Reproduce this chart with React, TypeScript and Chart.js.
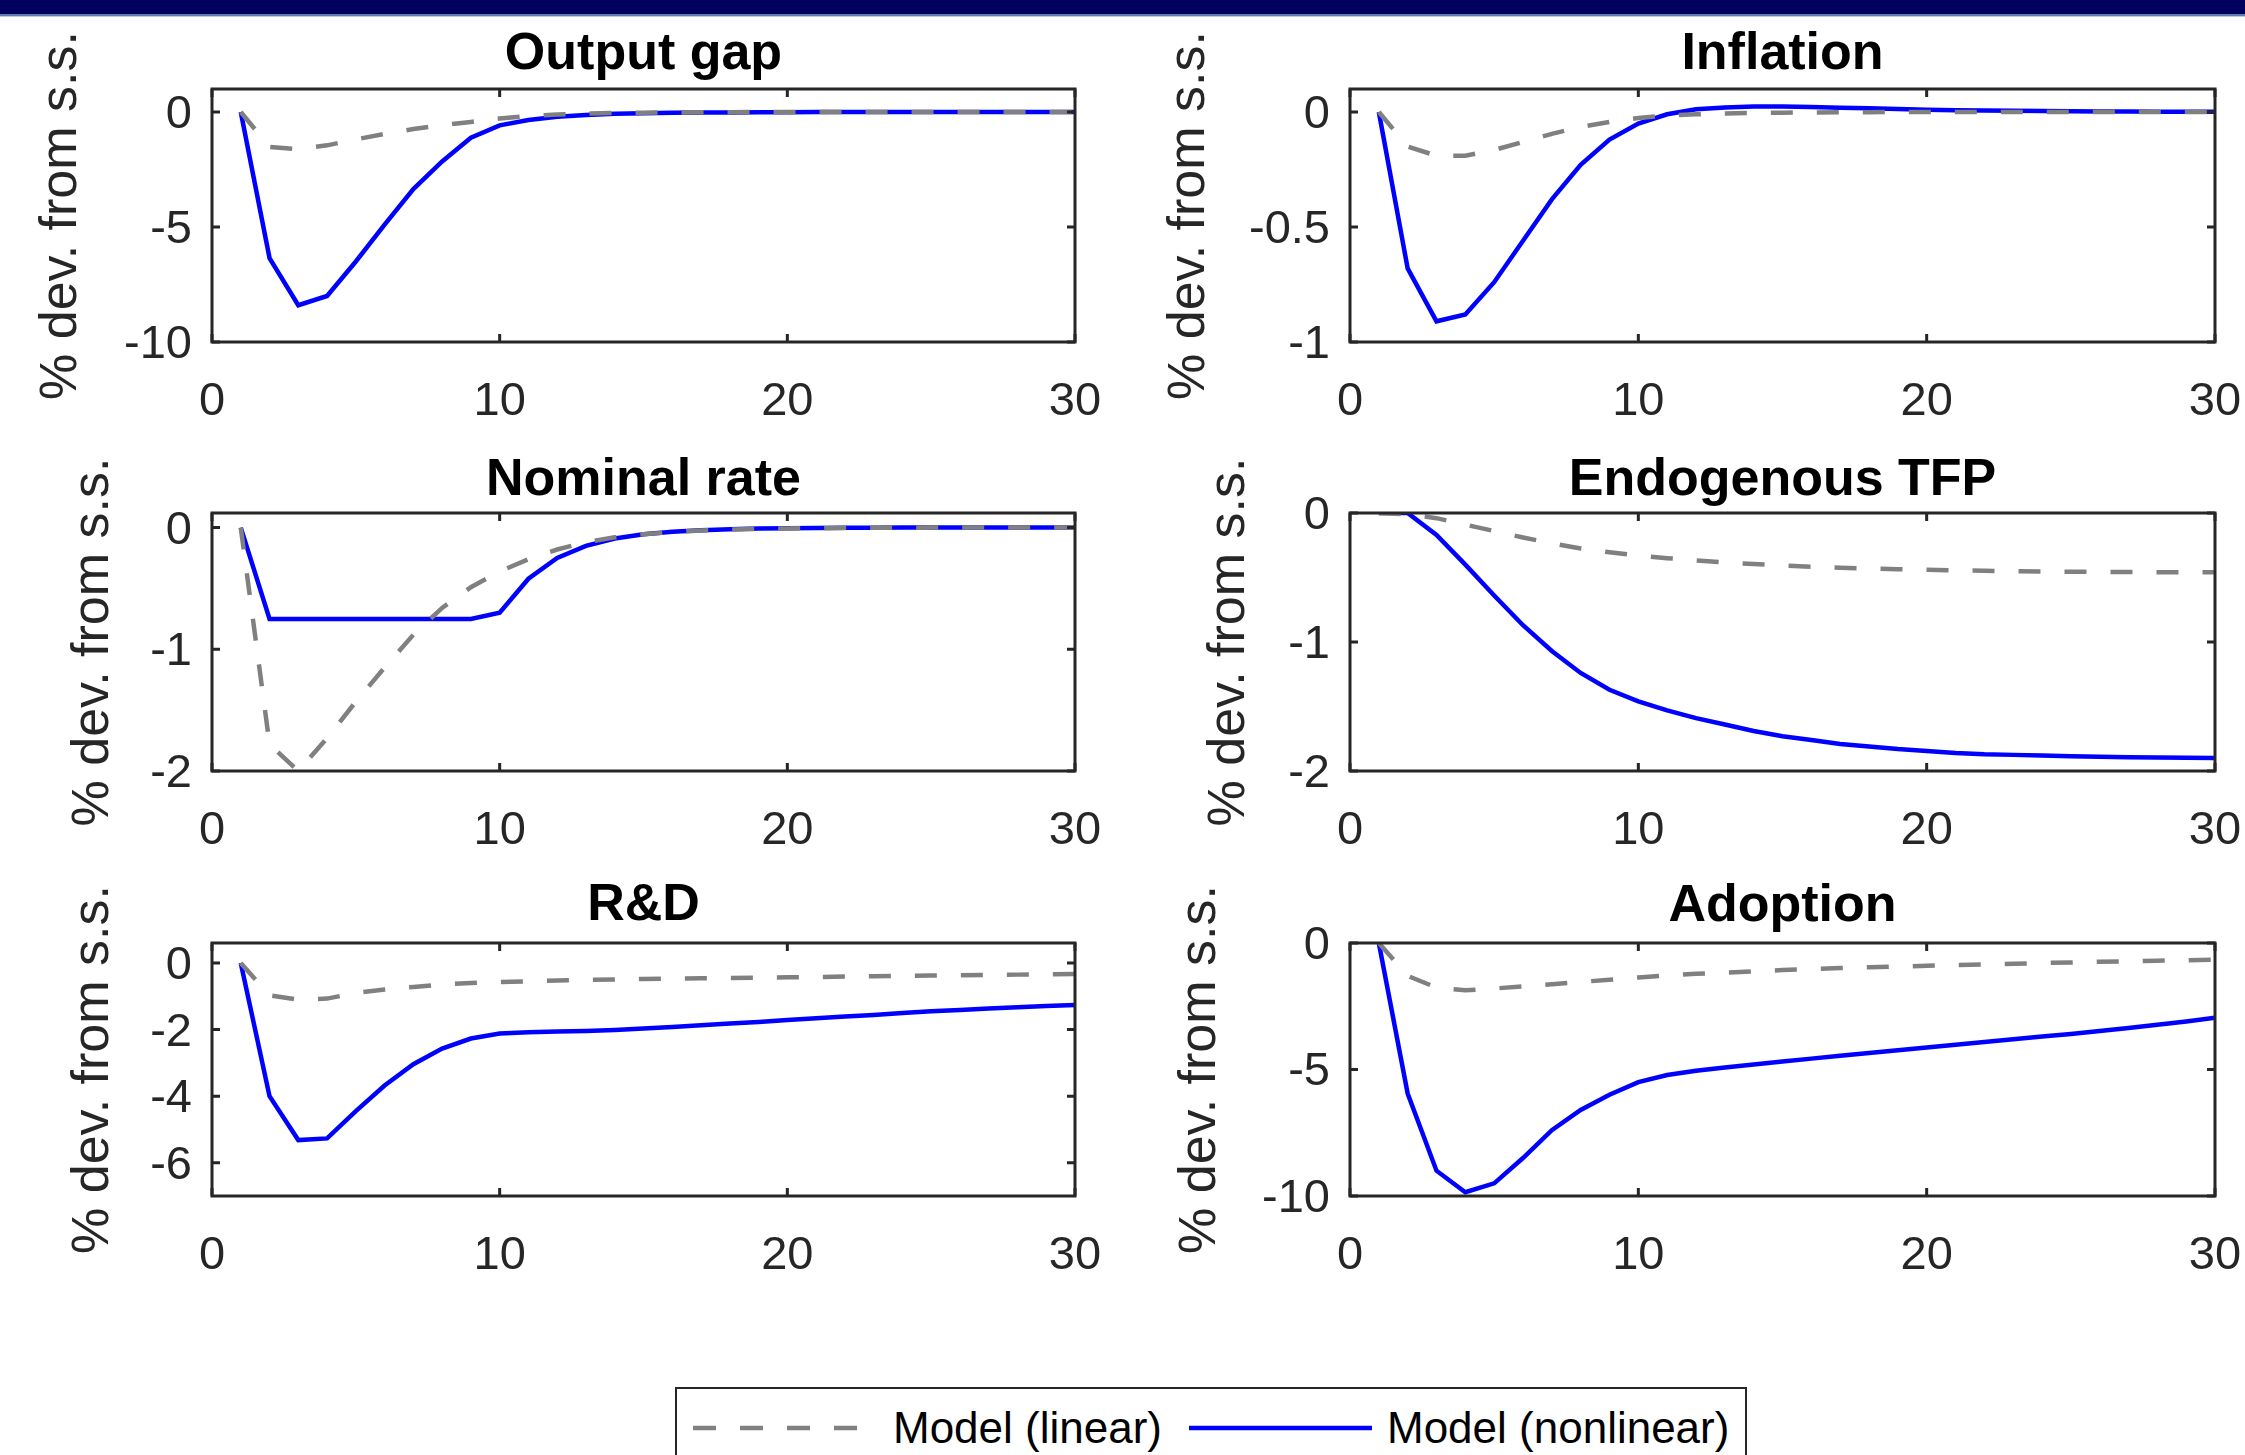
import React, { useEffect, useRef } from "react";
import { Chart, registerables } from "chart.js";

Chart.register(...registerables);

// ---------------- data ----------------
const periods = [1, 2, 3, 4, 5, 6, 7, 8, 9, 10, 11, 12, 13, 14, 15, 16, 17, 18, 19, 20, 21, 22, 23, 24, 25, 26, 27, 28, 29, 30];
const xTickValues = [0, 10, 20, 30];

const seriesLabels = ["Model (linear)", "Model (nonlinear)"];
const panelTitles = ["Output gap", "Inflation", "Nominal rate", "Endogenous TFP", "R&D", "Adoption"];
const yAxisLabel = "% dev. from s.s.";

const outputGapLinear = [0, -1.52, -1.62, -1.45, -1.19, -0.95, -0.74, -0.57, -0.43, -0.28, -0.17, -0.11, -0.07, -0.04, -0.03, -0.02, -0.01, -0.01, 0, 0, 0, 0, 0, 0, 0, 0, 0, 0, 0, 0];
const outputGapNonlinear = [0, -6.35, -8.4, -8.0, -6.5, -4.9, -3.35, -2.15, -1.12, -0.58, -0.35, -0.21, -0.13, -0.08, -0.05, -0.035, -0.025, -0.018, -0.012, -0.008, -0.005, -0.004, -0.003, -0.002, -0.001, 0, 0, 0, 0, 0];
const outputGapYTicks = [-10, -5, 0];

const inflationLinear = [0, -0.15, -0.19, -0.19, -0.165, -0.13, -0.095, -0.065, -0.043, -0.026, -0.015, -0.01, -0.006, -0.004, -0.003, -0.002, -0.001, -0.001, 0, 0, 0, 0, 0, 0, 0, 0, 0, 0, 0, 0];
const inflationNonlinear = [0, -0.68, -0.91, -0.88, -0.74, -0.56, -0.38, -0.23, -0.12, -0.05, -0.01, 0.012, 0.02, 0.024, 0.024, 0.022, 0.019, 0.016, 0.013, 0.01, 0.008, 0.006, 0.005, 0.004, 0.003, 0.002, 0.002, 0.001, 0.001, 0.001];
const inflationYTicks = [-1, -0.5, 0];

const nominalRateLinear = [0, -1.78, -2.0, -1.73, -1.43, -1.15, -0.88, -0.66, -0.49, -0.36, -0.26, -0.18, -0.12, -0.08, -0.055, -0.037, -0.024, -0.016, -0.01, -0.007, -0.005, -0.003, -0.002, -0.001, 0, 0, 0, 0, 0, 0];
const nominalRateNonlinear = [0, -0.75, -0.75, -0.75, -0.75, -0.75, -0.75, -0.75, -0.75, -0.7, -0.42, -0.25, -0.15, -0.09, -0.055, -0.034, -0.021, -0.013, -0.008, -0.005, -0.003, -0.002, -0.001, 0, 0, 0, 0, 0, 0, 0];
const nominalRateYTicks = [-2, -1, 0];

const tfpLinear = [0, -0.01, -0.04, -0.09, -0.14, -0.19, -0.235, -0.275, -0.305, -0.33, -0.35, -0.368, -0.383, -0.396, -0.407, -0.416, -0.424, -0.43, -0.436, -0.44, -0.444, -0.448, -0.451, -0.453, -0.455, -0.457, -0.458, -0.459, -0.46, -0.46];
const tfpNonlinear = [0, 0, -0.17, -0.4, -0.64, -0.87, -1.07, -1.24, -1.37, -1.46, -1.53, -1.59, -1.64, -1.69, -1.73, -1.76, -1.79, -1.81, -1.83, -1.845, -1.86, -1.87, -1.875, -1.88, -1.885, -1.89, -1.893, -1.896, -1.898, -1.9];
const tfpYTicks = [-2, -1, 0];

const rdLinear = [0, -0.97, -1.1, -1.07, -0.9, -0.8, -0.72, -0.65, -0.6, -0.57, -0.55, -0.53, -0.51, -0.5, -0.48, -0.47, -0.46, -0.45, -0.44, -0.43, -0.42, -0.41, -0.4, -0.39, -0.38, -0.37, -0.36, -0.35, -0.34, -0.33];
const rdNonlinear = [0, -4.0, -5.32, -5.27, -4.45, -3.68, -3.04, -2.57, -2.27, -2.12, -2.08, -2.06, -2.04, -2.01, -1.97, -1.92, -1.87, -1.82, -1.77, -1.71, -1.66, -1.61, -1.56, -1.5, -1.45, -1.41, -1.37, -1.33, -1.29, -1.26];
const rdYTicks = [-6, -4, -2, 0];

const adoptionLinear = [0, -1.3, -1.76, -1.87, -1.8, -1.71, -1.63, -1.54, -1.45, -1.36, -1.28, -1.22, -1.17, -1.12, -1.07, -1.03, -0.99, -0.96, -0.93, -0.9, -0.87, -0.85, -0.82, -0.79, -0.77, -0.74, -0.72, -0.7, -0.68, -0.66];
const adoptionNonlinear = [0, -5.95, -9.0, -9.85, -9.5, -8.5, -7.4, -6.6, -6.0, -5.5, -5.22, -5.05, -4.92, -4.8, -4.68, -4.57, -4.46, -4.35, -4.24, -4.13, -4.02, -3.91, -3.8, -3.7, -3.6, -3.48, -3.36, -3.23, -3.1, -2.95];
const adoptionYTicks = [-10, -5, 0];

// ---------------- styling / layout ----------------
const FONT = "'Liberation Sans', Arial, Helvetica, sans-serif";
const GRAY = "#808080";
const BLUE = "#0000ff";
const AXIS = "#262626";
const XAXIS_H = 80;
const LINE_W = 4.5;

type PanelCfg = {
  title: string;
  linear: number[];
  nonlinear: number[];
  yMin: number;
  yMax: number;
  yTicks: number[];
  left: number;
  top: number;
  width: number;
  height: number;
  box: { l: number; t: number; r: number; b: number };
  yTitleX: number;
  titleCapY: number;
};

const panels: PanelCfg[] = [
  { title: panelTitles[0], linear: outputGapLinear, nonlinear: outputGapNonlinear, yMin: -10, yMax: 1, yTicks: outputGapYTicks,
    left: 0, top: 0, width: 1120, height: 430, box: { l: 212, t: 89, r: 1075, b: 342 }, yTitleX: 62, titleCapY: 50.5 },
  { title: panelTitles[1], linear: inflationLinear, nonlinear: inflationNonlinear, yMin: -1, yMax: 0.1, yTicks: inflationYTicks,
    left: 1120, top: 0, width: 1125, height: 430, box: { l: 230, t: 89, r: 1095, b: 342 }, yTitleX: 70, titleCapY: 50.5 },
  { title: panelTitles[2], linear: nominalRateLinear, nonlinear: nominalRateNonlinear, yMin: -2, yMax: 0.12, yTicks: nominalRateYTicks,
    left: 0, top: 430, width: 1120, height: 430, box: { l: 212, t: 83, r: 1075, b: 341 }, yTitleX: 94, titleCapY: 46 },
  { title: panelTitles[3], linear: tfpLinear, nonlinear: tfpNonlinear, yMin: -2, yMax: 0, yTicks: tfpYTicks,
    left: 1120, top: 430, width: 1125, height: 430, box: { l: 230, t: 83, r: 1095, b: 341 }, yTitleX: 110, titleCapY: 46 },
  { title: panelTitles[4], linear: rdLinear, nonlinear: rdNonlinear, yMin: -7, yMax: 0.6, yTicks: rdYTicks,
    left: 0, top: 860, width: 1120, height: 430, box: { l: 212, t: 83, r: 1075, b: 336 }, yTitleX: 94, titleCapY: 41 },
  { title: panelTitles[5], linear: adoptionLinear, nonlinear: adoptionNonlinear, yMin: -10, yMax: 0, yTicks: adoptionYTicks,
    left: 1120, top: 860, width: 1125, height: 430, box: { l: 230, t: 83, r: 1095, b: 336 }, yTitleX: 81, titleCapY: 42 },
];

function PanelChart({ p }: { p: PanelCfg }) {
  const ref = useRef<HTMLCanvasElement | null>(null);

  useEffect(() => {
    if (!ref.current) return;
    const titleSize = 52;
    const yTitleSize = 52;
    const tickSize = 47;

    const framePlugin = {
      id: "matlabFrame",
      afterDraw(chart: any) {
        const { ctx, chartArea } = chart;
        const { left, right, top, bottom } = chartArea;
        const xs = chart.scales.x;
        const ys = chart.scales.y;
        ctx.save();
        ctx.strokeStyle = AXIS;
        ctx.lineWidth = 3;
        ctx.lineCap = "butt";
        const tl = 8;
        ctx.beginPath();
        for (const v of xTickValues) {
          const px = xs.getPixelForValue(v);
          ctx.moveTo(px, bottom);
          ctx.lineTo(px, bottom - tl);
          ctx.moveTo(px, top);
          ctx.lineTo(px, top + tl);
        }
        for (const v of p.yTicks) {
          const py = ys.getPixelForValue(v);
          ctx.moveTo(left, py);
          ctx.lineTo(left + tl, py);
          ctx.moveTo(right, py);
          ctx.lineTo(right - tl, py);
        }
        ctx.stroke();
        ctx.strokeRect(left, top, right - left, bottom - top);
        // panel title
        ctx.fillStyle = "#000000";
        ctx.font = `bold ${titleSize}px ${FONT}`;
        ctx.textAlign = "center";
        ctx.textBaseline = "alphabetic";
        ctx.fillText(p.title, (left + right) / 2, p.titleCapY + 0.716 * titleSize / 2);
        ctx.restore();
      },
    };

    const chart = new Chart(ref.current, {
      type: "line",
      data: {
        datasets: [
          {
            label: seriesLabels[0],
            data: periods.map((x, i) => ({ x, y: p.linear[i] })),
            borderColor: GRAY,
            backgroundColor: GRAY,
            borderWidth: LINE_W,
            borderDash: [22, 24],
            pointRadius: 0,
            pointHoverRadius: 0,
            tension: 0,
            fill: false,
          },
          {
            label: seriesLabels[1],
            data: periods.map((x, i) => ({ x, y: p.nonlinear[i] })),
            borderColor: BLUE,
            backgroundColor: BLUE,
            borderWidth: LINE_W,
            pointRadius: 0,
            pointHoverRadius: 0,
            tension: 0,
            fill: false,
          },
        ],
      },
      options: {
        responsive: false,
        animation: false,
        events: [],
        layout: {
          padding: {
            left: 0,
            top: p.box.t,
            right: p.width - p.box.r,
            bottom: p.height - p.box.b - XAXIS_H,
          },
        },
        plugins: {
          legend: { display: false },
          tooltip: { enabled: false },
          title: { display: false },
        },
        scales: {
          x: {
            type: "linear",
            min: 0,
            max: 30,
            grid: { display: false, drawTicks: false },
            border: { display: false },
            ticks: {
              autoSkip: false,
              maxRotation: 0,
              padding: 32,
              color: AXIS,
              font: { family: FONT, size: tickSize },
              callback: (v: any) => String(v),
            },
            afterBuildTicks: (s: any) => {
              s.ticks = xTickValues.map((v) => ({ value: v }));
            },
            afterFit: (s: any) => {
              s.height = XAXIS_H;
              s.paddingLeft = 0;
              s.paddingRight = 0;
            },
          },
          y: {
            type: "linear",
            min: p.yMin,
            max: p.yMax,
            grid: { display: false, drawTicks: false },
            border: { display: false },
            ticks: {
              autoSkip: false,
              padding: 20,
              labelOffset: 3,
              color: AXIS,
              font: { family: FONT, size: tickSize },
              callback: (v: any) => String(v),
            },
            afterBuildTicks: (s: any) => {
              s.ticks = p.yTicks.map((v) => ({ value: v }));
            },
            title: {
              display: true,
              text: yAxisLabel,
              color: AXIS,
              font: { family: FONT, size: yTitleSize },
              padding: { top: p.yTitleX - (yTitleSize * 1.2) / 2, bottom: 0 },
            },
            afterFit: (s: any) => {
              s.width = p.box.l;
              s.paddingTop = 0;
              s.paddingBottom = 0;
            },
          },
        },
      } as any,
      plugins: [framePlugin],
    });
    return () => chart.destroy();
  }, [p]);

  return (
    <canvas
      ref={ref}
      width={p.width}
      height={p.height}
      style={{ position: "absolute", left: p.left, top: p.top, width: p.width, height: p.height }}
    />
  );
}

function Legend() {
  const textStyle: React.CSSProperties = {
    position: "absolute",
    top: 1428 - 30,
    height: 60,
    lineHeight: "60px",
    fontSize: 44,
    fontFamily: FONT,
    color: "#000",
    whiteSpace: "nowrap",
  };
  return (
    <>
      <div
        style={{
          position: "absolute",
          left: 675,
          top: 1387,
          width: 1072,
          height: 120,
          border: `2px solid ${AXIS}`,
          background: "#fff",
          boxSizing: "border-box",
        }}
      />
      <svg style={{ position: "absolute", left: 693, top: 1418 }} width={183} height={20}>
        <line x1={0} y1={10} x2={183} y2={10} stroke={GRAY} strokeWidth={4.5} strokeDasharray="23 24" />
      </svg>
      <div style={{ ...textStyle, left: 893 }}>{seriesLabels[0]}</div>
      <svg style={{ position: "absolute", left: 1189, top: 1418 }} width={183} height={20}>
        <line x1={0} y1={10} x2={183} y2={10} stroke={BLUE} strokeWidth={4.5} />
      </svg>
      <div style={{ ...textStyle, left: 1387 }}>{seriesLabels[1]}</div>
    </>
  );
}

export default function App() {
  return (
    <div
      style={{
        position: "absolute",
        left: 0,
        top: 0,
        width: 2245,
        height: 1455,
        overflow: "hidden",
        background: "#ffffff",
      }}
    >
      {panels.map((p, i) => (
        <PanelChart key={i} p={p} />
      ))}
      <Legend />
      <div style={{ position: "absolute", left: 0, top: 0, width: 2245, height: 14, background: "#00005f" }} />
      <div style={{ position: "absolute", left: 0, top: 14, width: 2245, height: 2, background: "#5a80b2" }} />
      <div style={{ position: "absolute", left: 0, top: 16, width: 2245, height: 1, background: "#b8cbe2" }} />
    </div>
  );
}
